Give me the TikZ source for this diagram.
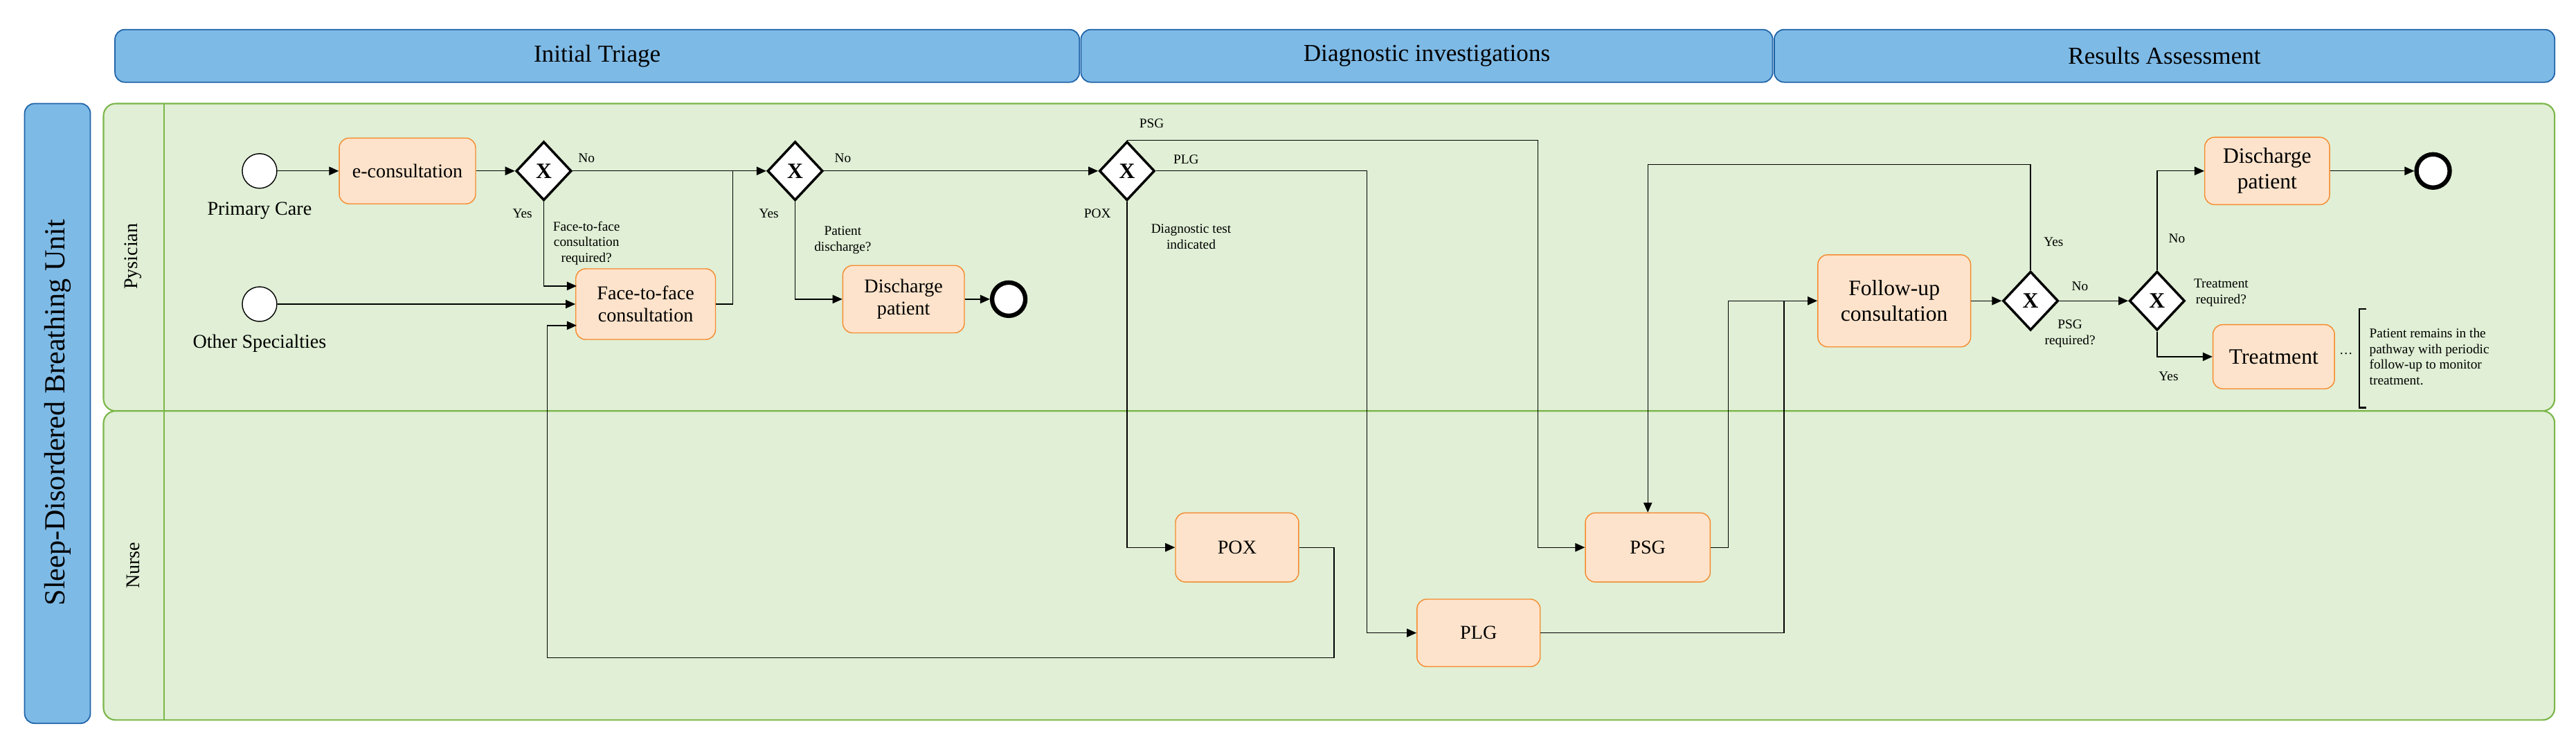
\documentclass[tikz,border=0pt]{standalone}
\usepackage{fontspec}
\setmainfont{Liberation Serif}
\usetikzlibrary{arrows.meta,shapes.geometric}
\definecolor{hdr}{HTML}{7EBAE6}
\definecolor{hdrb}{HTML}{1F64A8}
\definecolor{lane}{HTML}{E0EFD5}
\definecolor{laneb}{HTML}{7AB648}
\definecolor{taskf}{HTML}{FDE3CB}
\definecolor{taskb}{HTML}{F58A2E}
\begin{document}
\begin{tikzpicture}[x=0.02373cm,y=-0.02373cm,
  hdrbox/.style={draw=hdrb,fill=hdr,rounded corners=4pt,line width=0.5pt},
  lanebox/.style={draw=laneb,fill=lane,rounded corners=5pt,line width=0.6pt},
  task/.style={draw=taskb,fill=taskf,rounded corners=4pt,line width=0.4pt,align=center,font=\fontsize{8}{9}\selectfont,inner sep=0pt},
  gw/.style={diamond,draw,fill=white,line width=1pt,inner sep=0pt,minimum width=0.8cm,minimum height=0.85cm,font=\bfseries\fontsize{9}{9}\selectfont},
  start/.style={circle,draw,fill=white,line width=0.4pt,minimum size=0.5cm,inner sep=0pt},
  endc/.style={circle,draw,fill=white,line width=1.8pt,minimum size=0.48cm,inner sep=0pt},
  lbl/.style={font=\fontsize{5.5}{6.5}\selectfont,align=center,inner sep=0pt},
  big/.style={font=\fontsize{8}{9}\selectfont,inner sep=0pt},
  flow/.style={line width=0.4pt,-{Triangle[length=4pt,width=3.5pt]}},
  ln/.style={line width=0.4pt}]
\useasboundingbox (0,0) rectangle (1568,457.7);
% headers
\node[hdrbox,minimum width=587*0.02373cm,minimum height=32*0.02373cm,font=\fontsize{10}{11}\selectfont] (h1) at (363.5,34) {Initial Triage};
\node[hdrbox,minimum width=421*0.02373cm,minimum height=32*0.02373cm,font=\fontsize{10}{11}\selectfont] (h2) at (868.5,34) {Diagnostic investigations};
\node[hdrbox,minimum width=475*0.02373cm,minimum height=32*0.02373cm,font=\fontsize{10}{11}\selectfont] (h3) at (1317.5,34) {Results Assessment};
% pool
\draw[hdrbox] (15,63) rectangle (55,440);
\node[rotate=90,font=\fontsize{12}{13}\selectfont] (pool) at (35,251) {Sleep-Disordered Breathing Unit};
% lanes
\draw[lanebox] (63,63) rectangle (1555,250);
\draw[lanebox] (63,250) rectangle (1555,438);
\draw[laneb,line width=0.5pt] (100,63) -- (100,438);
\node[rotate=90,font=\fontsize{8}{9}\selectfont] (l1) at (81,156) {Pysician};
\node[rotate=90,font=\fontsize{8}{9}\selectfont] (l2) at (81,344) {Nurse};
% nodes
\node[start] (s1) at (158,104) {};
\node[big] (s1l) at (158,128) {Primary Care};
\node[start] (s2) at (158,185) {};
\node[big] (s2l) at (158,209) {Other Specialties};
\node[task,minimum width=83*0.02373cm,minimum height=40*0.02373cm] (econ) at (248,104) {e-consultation};
\node[gw] (g1) at (331,104) {X};
\node[task,minimum width=85*0.02373cm,minimum height=43*0.02373cm] (f2f) at (393,185) {Face-to-face\\consultation};
\node[gw] (g2) at (484,104) {X};
\node[task,minimum width=74*0.02373cm,minimum height=41*0.02373cm] (dis1) at (550,182) {Discharge\\patient};
\node[endc] (e1) at (614,182) {};
\node[gw] (g3) at (686,104) {X};
\node[task,minimum width=75*0.02373cm,minimum height=42*0.02373cm] (pox) at (753,333) {POX};
\node[task,minimum width=75*0.02373cm,minimum height=41*0.02373cm] (plg) at (900,385) {PLG};
\node[task,minimum width=76*0.02373cm,minimum height=42*0.02373cm] (psg) at (1003,333) {PSG};
\node[task,minimum width=93*0.02373cm,minimum height=56*0.02373cm,font=\fontsize{9}{10.5}\selectfont] (fu) at (1153,183) {Follow-up\\consultation};
\node[gw] (g4) at (1236,183) {X};
\node[gw] (g5) at (1313,183) {X};
\node[task,minimum width=76*0.02373cm,minimum height=41*0.02373cm,font=\fontsize{9}{10.5}\selectfont] (dis2) at (1380,104) {Discharge\\patient};
\node[endc] (e2) at (1481,104) {};
\node[task,minimum width=74*0.02373cm,minimum height=39*0.02373cm,font=\fontsize{9}{10}\selectfont] (trt) at (1384,217) {Treatment};
% labels
\node[lbl] (t1) at (357,96) {No};
\node[lbl] (t2) at (318,130) {Yes};
\node[lbl] (t3) at (357,148) {Face-to-face\\consultation\\required?};
\node[lbl] (t4) at (513,96) {No};
\node[lbl] (t5) at (468,130) {Yes};
\node[lbl] (t6) at (513,146) {Patient\\discharge?};
\node[lbl] (t7) at (701,75) {PSG};
\node[lbl] (t8) at (722,97) {PLG};
\node[lbl] (t9) at (668,130) {POX};
\node[lbl] (t10) at (725,144) {Diagnostic test\\indicated};
\node[lbl] (t11) at (1250,147) {Yes};
\node[lbl] (t12) at (1266,174) {No};
\node[lbl] (t13) at (1260,203) {PSG\\required?};
\node[lbl] (t14) at (1325,145) {No};
\node[lbl] (t15) at (1352,178) {Treatment\\required?};
\node[lbl] (t16) at (1320,229) {Yes};
\node[lbl,align=left,anchor=west] (note) at (1442,217) {Patient remains in the\\pathway with periodic\\follow-up to monitor\\treatment.};
\node[lbl] (dots) at (1428,215) {\dots};
\coordinate (bt) at (1436,188);
\coordinate (bb) at (1436,248);
\draw[line width=0.7pt] ([xshift=3pt]bt) -- (bt) -- (bb) -- ([xshift=3pt]bb);
% flows
\draw[flow] (s1) -- (econ);
\draw[flow] (econ) -- (g1);
\draw[flow] (g1) -- (g2);
\draw[flow] (g1.south) |- (351,174);
\draw[flow] (s2) -- (f2f);
\draw[ln] (f2f.east) -| (446,104);
\draw[flow] (g2.south) |- (dis1);
\draw[flow] (dis1) -- (e1);
\draw[flow] (g2) -- (g3);
\draw[flow] (g3.north) -| (936,333) -- (psg.west);
\draw[flow] (g3.east) -| (832,385) -- (plg.west);
\draw[flow] (g3.south) |- (pox.west);
\draw[flow] (pox.east) -| (812,400) -| (333,198) -- (351,198);
\draw[flow] (psg.east) -| (1052,183) -- (fu.west);
\draw[ln] (plg.east) -| (1086,183);
\draw[flow] (fu) -- (g4);
\draw[flow] (g4.north) |- (1003,100) -- (psg.north);
\draw[flow] (g4) -- (g5);
\draw[flow] (g5.north) |- (dis2.west);
\draw[flow] (dis2) -- (e2);
\draw[flow] (g5.south) |- (trt.west);
\end{tikzpicture}
\end{document}
